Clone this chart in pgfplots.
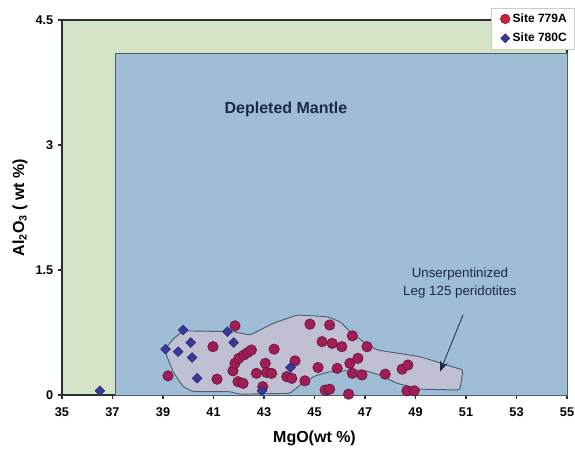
\documentclass[border=0pt]{standalone}
\usepackage{fontspec}
\setmainfont{Liberation Sans}
\usepackage{pgfplots}
\pgfplotsset{compat=1.18}
\usetikzlibrary{arrows.meta}

\definecolor{zonegreen}{RGB}{212,228,199}
\definecolor{zoneblue}{RGB}{160,189,215}
\definecolor{fieldfill}{RGB}{192,192,212}
\definecolor{fieldedge}{RGB}{75,95,110}
\definecolor{axisline}{RGB}{40,45,55}
\definecolor{siteAfill}{RGB}{158,30,85}
\definecolor{siteAedge}{RGB}{110,20,60}
\definecolor{siteAkey}{RGB}{200,35,50}
\definecolor{siteCfill}{RGB}{58,56,150}
\definecolor{siteCedge}{RGB}{40,40,110}
\definecolor{textnavy}{RGB}{27,40,70}

% Site 779A (circles)
\pgfplotstableread{
x y
39.20 0.23
40.98 0.58
41.14 0.19
41.85 0.83
41.77 0.29
41.85 0.38
42.00 0.44
42.20 0.48
42.35 0.51
42.50 0.54
41.97 0.16
42.17 0.14
42.70 0.26
42.95 0.10
43.05 0.38
43.10 0.27
43.30 0.26
43.40 0.55
43.90 0.22
44.10 0.20
44.23 0.41
44.62 0.17
44.82 0.85
45.14 0.33
45.30 0.64
45.60 0.84
45.70 0.62
45.90 0.32
46.08 0.58
46.40 0.38
46.50 0.71
46.50 0.26
46.72 0.44
46.88 0.24
47.08 0.58
47.80 0.25
48.47 0.31
48.70 0.36
45.42 0.06
45.60 0.07
46.35 0.01
48.66 0.05
48.95 0.05
}\siteA

% Site 780C (diamonds)
\pgfplotstableread{
x y
36.50 0.05
39.10 0.55
39.60 0.52
39.80 0.78
40.10 0.63
40.15 0.45
40.35 0.20
41.55 0.76
41.80 0.63
42.92 0.05
44.05 0.33
}\siteC

\begin{document}
\begin{tikzpicture}
\begin{axis}[
  scale only axis,
  width=378.75pt, height=281.25pt,
  xmin=35, xmax=55, ymin=0, ymax=4.5,
  xtick={35,37,...,55},
  ytick={0,1.5,3,4.5},
  tick align=outside,
  xtick pos=bottom, ytick pos=left,
  major tick length=3pt,
  tick style={line width=0.8pt, color=axisline},
  axis line style={line width=1.1pt, color=axisline},
  axis background/.style={fill=zonegreen},
  /pgf/number format/assume math mode=true,
  ticklabel style={font=\bfseries\fontsize{9.5}{11}\selectfont},
  xticklabel style={yshift=-3pt},
  xlabel={MgO(wt \%)},
  ylabel={Al\textsubscript{2}O\textsubscript{3} ( wt \%)},
  label style={font=\bfseries\fontsize{12}{14}\selectfont},
  xlabel style={at={(axis description cs:0.5,-0.115)}, anchor=center},
  ylabel style={at={(axis description cs:-0.083,0.5)}, anchor=center},
  clip=false,
  legend style={
    at={(1.0158,1.032)}, anchor=north east,
    draw=gray!40, fill=white, line width=0.4pt,
    font=\bfseries\fontsize{9}{11}\selectfont,
    inner xsep=4pt, inner ysep=2pt,
    row sep=2.5pt,
    /tikz/every even column/.append style={column sep=1pt},
  },
  legend cell align=left,
  legend image code/.code={\path[draw=none, fill=none] (-0.1cm,0) -- (0.12cm,0); \draw[#1] plot coordinates {(0.12cm,0cm)};},
]

% depleted mantle field
\addplot[fill=zoneblue, draw=fieldedge, line width=0.6pt, forget plot]
  coordinates {(37.1,0) (37.1,4.1) (55,4.1) (55,0)} -- cycle;

% field of unserpentinized peridotites
\addplot[fill=fieldfill, draw=fieldedge, line width=0.7pt, rounded corners=2pt, forget plot]
  coordinates {
  (39.08,0.55) (39.36,0.66) (39.79,0.77) (41.77,0.76) (42.45,0.72)
  (43.36,0.86) (44.31,0.96) (45.50,0.94) (46.01,0.88) (46.41,0.76)
  (46.92,0.64) (47.48,0.54) (49.18,0.46) (50.88,0.30) (50.76,0.06)
  (49.18,0.07) (48.27,0.14) (47.59,0.24) (46.92,0.30) (45.61,0.28)
  (45.02,0.23) (44.43,0.12) (44.03,0.02) (42.05,0.01) (41.65,0.04)
  (40.19,0.04) (39.79,0.10) (39.40,0.28) (39.16,0.46)} -- cycle;

% one 780C sample lies beneath the 779A symbols
\addplot[only marks, mark=square*, mark size=2.6pt,
  mark options={rotate=45, fill=siteCfill, draw=siteCedge, line width=0.4pt}, forget plot]
  coordinates {(45.50,0.05)};

\addplot[only marks, mark=*, mark size=3.9pt,
  mark options={fill=siteAfill, draw=siteAedge, line width=0.5pt}, forget plot]
  table[x=x, y=y] {\siteA};

\addplot[only marks, mark=square*, mark size=2.6pt,
  mark options={rotate=45, fill=siteCfill, draw=siteCedge, line width=0.4pt}, forget plot]
  table[x=x, y=y] {\siteC};

\addlegendimage{only marks, mark=*, mark size=3.6pt, mark options={fill=siteAkey, draw=siteAkey!70!black, line width=0.4pt}}
\addlegendentry{Site 779A}
\addlegendimage{only marks, mark=square*, mark size=2.4pt, mark options={rotate=45, fill=siteCfill, draw=siteCedge, line width=0.4pt}}
\addlegendentry{Site 780C}

\node[font=\bfseries\fontsize{12}{14}\selectfont, text=textnavy] at (axis cs:43.87,3.43) {Depleted Mantle};
\node[align=center, font=\fontsize{10}{13.5}\selectfont, text=textnavy] at (axis cs:50.76,1.34) {Unserpentinized\\Leg 125 peridotites};
\draw[textnavy, line width=0.6pt, -{Stealth[length=8pt, width=6pt]}] (axis cs:50.88,0.96) -- (axis cs:49.97,0.28);

\coordinate (bbll) at (rel axis cs:-0.12277,-0.144);
\coordinate (bbur) at (rel axis cs:1.01584,1.05333);
\end{axis}
\pgfresetboundingbox
\useasboundingbox (bbll) rectangle (bbur);
\end{tikzpicture}
\end{document}
